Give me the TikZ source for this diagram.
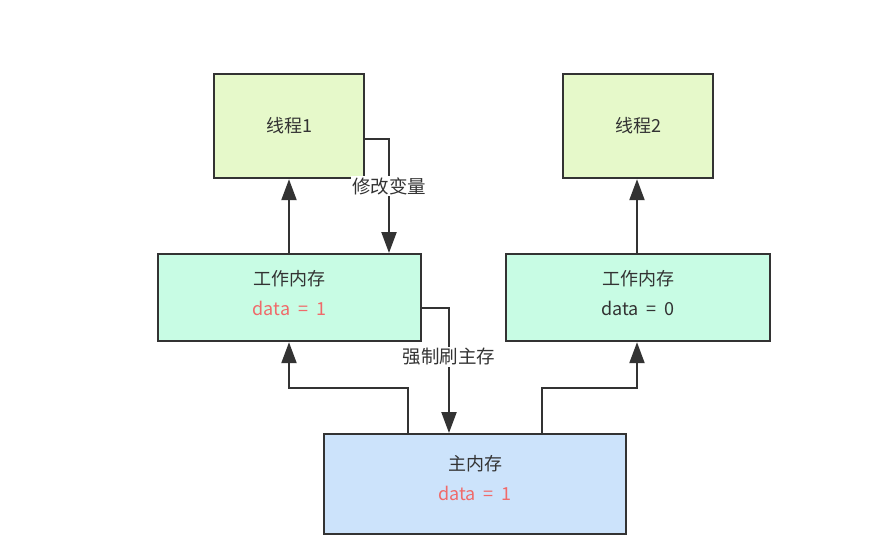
\documentclass[tikz,border=0pt]{standalone}
\usepackage{fontspec}
\setmainfont{Noto Sans CJK SC}
\usetikzlibrary{arrows.meta}
\definecolor{thr}{HTML}{E6F9CA}
\definecolor{wm}{HTML}{C8FCE4}
\definecolor{mm}{HTML}{CCE3FB}
\definecolor{edge}{HTML}{333333}
\definecolor{red1}{HTML}{F06A6A}
\newcommand{\dsp}{\hspace{0.45em}}
\begin{document}
\begin{tikzpicture}[x=1pt,y=-1pt,
  box/.style={draw=edge,line width=2.2pt,inner sep=0pt,anchor=north west},
  txt/.style={text=edge,font=\fontsize{18}{30}\selectfont,align=center,inner sep=0pt},
  conn/.style={draw=edge,line width=2.2pt,-{Triangle[length=21pt,width=15pt]}},
  lbl/.style={fill=white,text=edge,font=\fontsize{18.5}{20}\selectfont,inner sep=1pt}]
\useasboundingbox (0,0) rectangle (880,539);
\node[box,fill=thr,minimum width=150pt,minimum height=104pt] (t1) at (213,73) {};
\node[box,fill=thr,minimum width=150pt,minimum height=104pt] (t2) at (562,73) {};
\node[box,fill=wm,minimum width=263pt,minimum height=87pt] (w1) at (157,253) {};
\node[box,fill=wm,minimum width=264pt,minimum height=87pt] (w2) at (505,253) {};
\node[box,fill=mm,minimum width=302pt,minimum height=100pt] (m) at (323,433) {};
\node[txt] (t1t) at (t1.center) {线程1};
\node[txt] (t2t) at (t2.center) {线程2};
\node[txt] (w1t) at ([yshift=5pt]w1.center) {工作内存\\\textcolor{red1}{data\dsp=\dsp1}};
\node[txt] (w2t) at ([yshift=5pt]w2.center) {工作内存\\data\dsp=\dsp0};
\node[txt] (mt) at ([yshift=6pt]m.center) {主内存\\\textcolor{red1}{data\dsp=\dsp1}};
% WM1 -> T1
\draw[conn] (w1.north -| 289,0) -- (t1.south -| 289,0);
% T1 -> WM1 (modify)
\coordinate (a1) at (389,139);
\draw[conn] (t1.east |- a1) -- (a1) -- (w1.north -| a1);
\node[lbl] (l1) at (389,186) {修改变量};
% WM1 -> main (flush)
\coordinate (a2) at (449,308);
\draw[conn] (w1.east |- a2) -- (a2) -- (m.north -| a2);
\node[lbl] (l2) at (449,357) {强制刷主存};
% main -> WM1
\coordinate (b1) at (408,388);
\coordinate (b2) at (289,388);
\draw[conn] (m.north -| b1) -- (b1) -- (b2) -- (w1.south -| b2);
% main -> WM2
\coordinate (c1) at (542,388);
\coordinate (c2) at (637,388);
\draw[conn] (m.north -| c1) -- (c1) -- (c2) -- (w2.south -| c2);
% WM2 -> T2
\draw[conn] (w2.north -| 637,0) -- (t2.south -| 637,0);
\end{tikzpicture}
\end{document}
